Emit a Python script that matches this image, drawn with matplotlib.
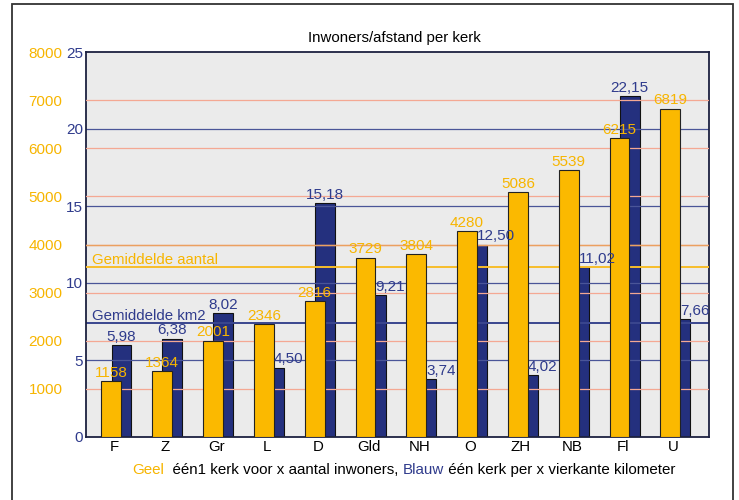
import matplotlib
matplotlib.use("Agg")
from matplotlib import pyplot as plt
from matplotlib.patches import Rectangle

provinces = ["F", "Z", "Gr", "L", "D", "Gld", "NH", "O", "ZH", "NB", "Fl", "U"]
inwoners = [1158, 1364, 2001, 2346, 2816, 3729, 3804, 4280, 5086, 5539, 6215, 6819]
km2 = [5.98, 6.38, 8.02, 4.50, 15.18, 9.21, 3.74, 12.50, 4.02, 11.02, 22.15, 7.66]
gem_inwoners = 3530
gem_km2 = 7.4
inw_ticks = [1000, 2000, 3000, 4000, 5000, 6000, 7000, 8000]
km2_ticks = [0, 5, 10, 15, 20, 25]
inw_max = 8000
km2_max = 25

ORANGE = "#fbb900"
ORANGE_TXT = "#f7b500"
BLUE = "#24307e"
BLUE_TXT = "#2f3b8c"
SALMON = "#f4a893"

plt.rcParams["font.family"] = ["Liberation Sans", "DejaVu Sans"]
fs = 10.8

fig = plt.figure(figsize=(7.39, 5.0), dpi=100)
fig.patches.append(Rectangle((12 / 739, -0.02), 721 / 739, 1.012, transform=fig.transFigure,
                             fill=False, edgecolor="#333333", lw=1.3))

ax = fig.add_axes([86 / 739, 1 - 437 / 500, 623 / 739, 385 / 500])
ax.set_facecolor("#ebebeb")
ax2 = ax.twinx()

x = list(range(len(provinces)))
bw = 0.39
off = 0.2

# blue series (bottom layer)
ax.bar([i + off for i in x], km2, width=bw, color=BLUE, edgecolor="#111111", lw=0.8, zorder=1)
ax.set_ylim(0, km2_max)
ax.set_yticks(km2_ticks)
ax.tick_params(axis="y", length=0, pad=2, labelcolor=BLUE_TXT, labelsize=11)
ax.hlines([t for t in km2_ticks if 0 < t < km2_max], -1, 13, color="#4a5598", lw=0.9, zorder=2)
ax.axhline(gem_km2, color="#3a468e", lw=1.4, zorder=2)

ax.set_xlim(-0.5, 11.76)
ax.set_xticks([i + 0.06 for i in x])
ax.set_xticklabels(provinces)
ax.tick_params(axis="x", length=0, pad=2, labelsize=10.8)
for s in ax.spines.values():
    s.set_color("#1c2140")
    s.set_linewidth(1.3)

# orange series (top layer)
ax2.bar(x, inwoners, width=bw, color=ORANGE, edgecolor="#222222", lw=0.8, zorder=2)
ax2.set_ylim(0, inw_max)
ax2.set_yticks(inw_ticks)
ax2.yaxis.tick_left()
ax2.tick_params(axis="y", length=0, pad=17, labelcolor=ORANGE_TXT, labelsize=11)
ax2.hlines([t for t in inw_ticks if t < inw_max], -1, 13, color=SALMON, lw=0.9, zorder=0.5)
ax2.axhline(4000, color="#eba060", lw=1.0, zorder=0.6)
ax2.axhline(gem_inwoners, color="#f7bd2a", lw=1.4, zorder=0.6)
ax2.set_xlim(-0.5, 11.76)
for s in ax2.spines.values():
    s.set_visible(False)

ax2.text(0.01, gem_inwoners, "Gemiddelde aantal", transform=ax2.get_yaxis_transform(),
         color=ORANGE_TXT, fontsize=10.8, va="bottom", ha="left", zorder=5)
ax2.text(0.01, gem_km2, "Gemiddelde km2", transform=ax.get_yaxis_transform(),
         color=BLUE_TXT, fontsize=10.8, va="bottom", ha="left", zorder=5)

for i, v in zip(x, inwoners):
    ax2.annotate(str(v), (i, v), xytext=(0, 1), textcoords="offset points",
                 ha="center", va="bottom", color=ORANGE_TXT, fontsize=11, zorder=6)

for i, v, o in zip(x, km2, inwoners):
    lbl = f"{v:.2f}".replace(".", ",")
    if o / inw_max > v / km2_max:
        # label beside the orange bar when the blue bar is hidden behind it
        ax2.annotate(lbl, (i + bw / 2, v), xycoords=ax.transData, xytext=(0, 1),
                     textcoords="offset points", ha="left", va="bottom",
                     color=BLUE_TXT, fontsize=11, zorder=6)
    else:
        ax2.annotate(lbl, (i + off, v), xycoords=ax.transData, xytext=(0, 1),
                     textcoords="offset points", ha="center", va="bottom",
                     color=BLUE_TXT, fontsize=11, zorder=6)

fig.text(394 / 739, 1 - 38 / 500, "Inwoners/afstand per kerk", ha="center", va="center",
         fontsize=10.8)

# bottom caption in pieces of different colour
pieces = [("Geel", ORANGE_TXT), ("  één1 kerk voor x aantal inwoners, ", "black"),
          ("Blauw", BLUE_TXT), (" één kerk per x vierkante kilometer", "black")]
renderer = fig.canvas.get_renderer()
xpos = 132 / 739
for txt, col in pieces:
    t = fig.text(xpos, 1 - 470 / 500, txt, color=col, fontsize=10.9, ha="left", va="center")
    bb = t.get_window_extent(renderer)
    xpos += bb.width / fig.bbox.width

fig.savefig("out.png", dpi=100)
